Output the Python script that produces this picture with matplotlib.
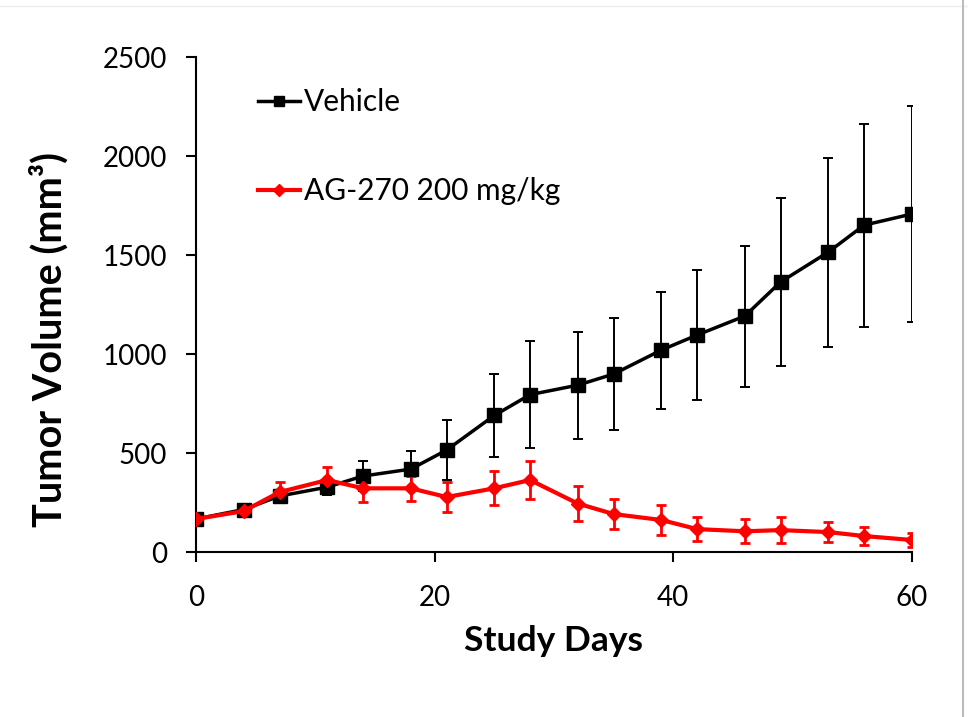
import matplotlib
matplotlib.use("Agg")
import matplotlib.pyplot as plt
from matplotlib.lines import Line2D

days = [0, 4, 7, 11, 14, 18, 21, 25, 28, 32, 35, 39, 42, 46, 49, 53, 56, 60]

vehicle = [167, 215, 283, 328, 384, 419, 515, 690, 795, 843, 899, 1020,
           1096, 1192, 1364, 1515, 1651, 1707]
vehicle_err = [20, 22, 25, 40, 75, 90, 150, 210, 270, 270, 283, 295,
               328, 356, 422, 477, 513, 545]

ag270 = [167, 207, 303, 364, 322, 322, 278, 322, 364, 245, 192, 162,
         116, 105, 111, 101, 81, 61]
ag270_err = [15, 20, 50, 65, 70, 62, 77, 85, 98, 88, 75, 78,
             60, 60, 65, 50, 45, 35]

plt.rcParams['font.family'] = ['Lato', 'DejaVu Sans']

fig = plt.figure(figsize=(9.68, 7.17), dpi=100)
ax = fig.add_axes([0.2025, 0.230, 0.7395, 0.6905])

# error bars first, then lines with markers on top
ax.errorbar(days, vehicle, yerr=vehicle_err, fmt='none', ecolor='black',
            elinewidth=1.4, capsize=3.5, capthick=1.4, zorder=2)
ax.errorbar(days, ag270, yerr=ag270_err, fmt='none', ecolor='#ff0000',
            elinewidth=2, capsize=3.5, capthick=2, zorder=3)
ax.plot(days, vehicle, color='black', lw=2.5, marker='s', ms=9.5,
        label='Vehicle', zorder=3)
ax.plot(days, ag270, color='#ff0000', lw=3, marker='D', ms=7,
        label='AG-270 200 mg/kg', zorder=4)

ax.set_xlim(0, 60)
ax.set_ylim(0, 2500)
ax.set_xticks([0, 20, 40, 60])
ax.set_yticks([0, 500, 1000, 1500, 2000, 2500])
ax.spines['top'].set_visible(False)
ax.spines['right'].set_visible(False)
for s in ['left', 'bottom']:
    ax.spines[s].set_linewidth(1.5)
ax.tick_params(axis='both', which='major', labelsize=20, width=1.5,
               length=7, direction='out', pad=14)
ax.tick_params(axis='x', pad=17)

ax.set_xlabel('Study Days', fontsize=25.5, fontweight='bold', labelpad=10)
ax.set_ylabel('Tumor Volume (mm³)', fontsize=28.5, fontweight='bold')
ax.yaxis.set_label_coords(-0.178, 0.43)

leg = ax.legend(loc='upper left', bbox_to_anchor=(0.0866, 0.937), frameon=False,
                fontsize=21.5, handlelength=1.4, handletextpad=0.15,
                labelspacing=2.05, borderpad=0, borderaxespad=0)
for h in leg.legend_handles:
    h.set_markersize(6.5)

# screenshot border lines
fig.add_artist(Line2D([0, 1], [0.992, 0.992], color='#eeeeee', lw=1))
fig.add_artist(Line2D([0.9945, 0.9945], [0, 1], color='#bbbbbb', lw=1.5))

fig.savefig('out.png', dpi=100)
